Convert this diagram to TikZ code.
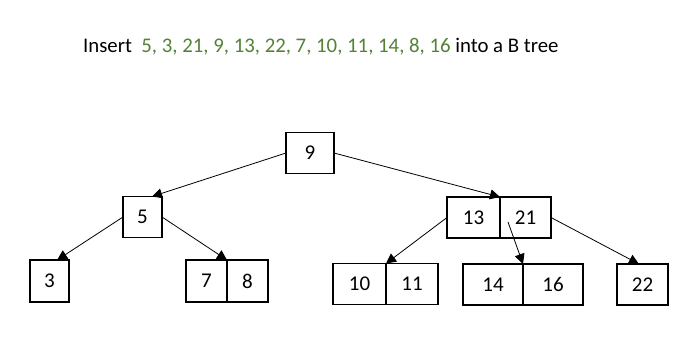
\documentclass[tikz,border=0pt]{standalone}
\usepackage{fontspec}
\setmainfont{Carlito}
\usetikzlibrary{arrows.meta}
\definecolor{keygreen}{RGB}{83,129,53}

\begin{document}
\begin{tikzpicture}[x=1pt,y=-1pt,
  key/.style={draw,line width=1.8pt,inner sep=0pt,outer sep=0pt,
    minimum height=41pt,font=\fontsize{21}{24}\selectfont},
  link/.style={-{Triangle[length=10pt,width=10pt]},line width=0.8pt}
]
  \useasboundingbox (0,0) rectangle (700,352);
  \node[anchor=west,inner sep=0pt,font=\fontsize{20.8}{24}\selectfont] (title) at (83,47)
    {Insert\hspace{0.45em}{\color{keygreen}5, 3, 21, 9, 13, 22, 7, 10, 11, 14, 8, 16} into a B tree};

  % root
  \node[key,minimum width=48pt] (k9) at (310,153) {9};
  % second level
  \node[key,minimum width=39pt] (k5) at (142.5,217) {5};
  \node[key,minimum width=53pt] (k13) at (473.5,217.5) {13};
  \node[key,minimum width=51pt] (k21) at (525.5,217.5) {21};
  % leaves
  \node[key,minimum width=39pt,minimum height=42pt] (k3) at (49.5,281) {3};
  \node[key,minimum width=41pt,minimum height=42pt] (k7) at (206.5,281) {7};
  \node[key,minimum width=41pt,minimum height=42pt] (k8) at (247.5,281) {8};
  \node[key,minimum width=53pt] (k10) at (359.5,284) {10};
  \node[key,minimum width=52pt] (k11) at (412,284) {11};
  \node[key,minimum width=60pt] (k14) at (493,284.5) {14};
  \node[key,minimum width=60pt] (k16) at (553,284.5) {16};
  \node[key,minimum width=51pt] (k22) at (642.5,284.5) {22};

  \coordinate (p21) at ([xshift=8pt,yshift=-4.5pt]k21.west);

  \path[link]
    (k9.west) edge (k5.65)
    (k9.east) edge (k13.north east)
    (k5.west) edge (k3.70)
    (k5.east) edge (k7.north east)
    (k13.west) edge (k10.north east)
    (p21) edge (k14.north east)
    (k21.east) edge (k22.100);
\end{tikzpicture}
\end{document}
